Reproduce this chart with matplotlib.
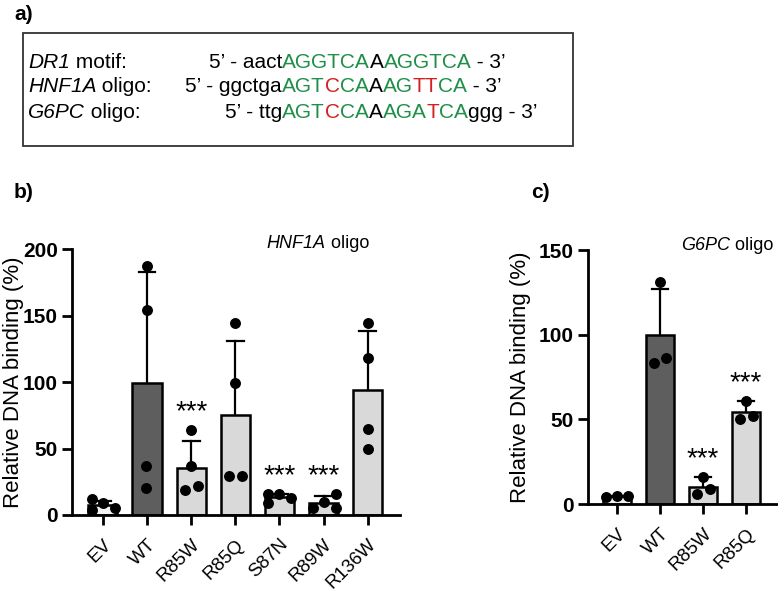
import numpy as np
import matplotlib
matplotlib.use("Agg")
import matplotlib.pyplot as plt
from matplotlib.offsetbox import TextArea, HPacker, AnnotationBbox
from matplotlib.patches import Rectangle

plt.rcParams['font.family'] = ['Liberation Sans', 'DejaVu Sans']

# ---- data ----
b_groups = ["EV", "WT", "R85W", "R85Q", "S87N", "R89W", "R136W"]
b_points = [
    [12, 4, 9, 5],
    [187, 154, 37, 20],
    [64, 37, 19, 22],
    [144, 99, 29, 29],
    [16, 9, 16, 13],
    [5, 10, 16, 5],
    [144, 118, 65, 50],
]
b_sd_top = [10.6, 183, 56, 131, 16, 14, 138]
b_stars = ["", "", "***", "", "***", "***", ""]

c_groups = ["EV", "WT", "R85W", "R85Q"]
c_points = [
    [4, 5, 5],
    [131, 83, 86],
    [16, 6, 9],
    [61, 50, 52],
]
c_sd_top = [5, 127, 16, 61]
c_stars = ["", "", "***", "***"]

# horizontal scatter of the dots inside each bar (style only)
b_jitter = [
    [-0.25, -0.25, 0, 0.27],
    [0, 0, -0.03, -0.03],
    [0, 0, -0.14, 0.16],
    [0, 0, -0.15, 0.14],
    [-0.25, -0.25, 0, 0.27],
    [-0.25, 0, 0.27, 0.27],
    [0, 0, 0, 0],
]
c_jitter = [
    [-0.25, 0, 0.25],
    [0, -0.14, 0.14],
    [0, -0.13, 0.16],
    [0, -0.15, 0.15],
]

green = "#1f8f48"
red = "#d42020"
light = "#d9d9d9"
dark = "#5e5e5e"

fig = plt.figure(figsize=(7.78, 5.95), dpi=100)


def rich(parts, fs, xy, align):
    # parts: list of (text, color, style)
    box = HPacker(children=[TextArea(s, textprops=dict(fontsize=fs, color=c, style=st))
                            for s, c, st in parts], sep=0, pad=0)
    fig.add_artist(AnnotationBbox(box, xy, xycoords="figure fraction",
                                  box_alignment=align, frameon=False, pad=0))


# ---- panel a: sequences ----
fig.text(14 / 778, 1 - 14 / 595, "a)", fontsize=15, fontweight="bold", va="center")
fig.patches.append(Rectangle((23 / 778, 1 - 146 / 595), 550 / 778, 113 / 595,
                             transform=fig.transFigure, fill=False,
                             edgecolor="#333333", lw=1.3))

seq_fs = 15
labels = [("DR1", " motif:"), ("HNF1A", " oligo:"), ("G6PC", " oligo:")]
prefixes = ["5\u2019 - aact", "5\u2019 - ggctga", "5\u2019 - ttg"]
cores = [
    [("AGGTCA", green), ("A", "black"), ("AGGTCA", green), (" - 3\u2019", "black")],
    [("AGT", green), ("C", red), ("CA", green), ("A", "black"), ("AG", green),
     ("TT", red), ("CA", green), (" - 3\u2019", "black")],
    [("AGT", green), ("C", red), ("CA", green), ("A", "black"), ("AGA", green),
     ("T", red), ("CA", green), ("ggg - 3\u2019", "black")],
]
line_y = [62, 87, 112]
motif_x = 282
for lab, pre, core, yy in zip(labels, prefixes, cores, line_y):
    yf = 1 - yy / 595
    rich([(lab[0], "black", "italic"), (lab[1], "black", "normal")], seq_fs,
         (28 / 778, yf), (0, 0.5))
    rich([(pre, "black", "normal")], seq_fs, (motif_x / 778, yf), (1, 0.5))
    rich([(s, c, "normal") for s, c in core], seq_fs, (motif_x / 778, yf), (0, 0.5))


def bar_panel(ax, groups, points, jitter, sd_top, stars, ymax, step, xlim):
    x = np.arange(len(groups))
    means = [np.mean(p) for p in points]
    colors = [dark if g == "WT" else light for g in groups]
    colors[0] = "#f2f2f2"
    ax.bar(x, means, width=0.66, color=colors, edgecolor="black", linewidth=1.8, zorder=2)
    for xi, m, top in zip(x, means, sd_top):
        if top > m:
            ax.plot([xi, xi], [m, top], color="black", lw=1.6, zorder=3)
            ax.plot([xi - 0.19, xi + 0.19], [top, top], color="black", lw=1.6, zorder=3)
    for xi, pts, jit in zip(x, points, jitter):
        ax.scatter(xi + np.asarray(jit), pts, s=62, color="black", zorder=4, linewidths=0)
    for xi, top, st in zip(x, sd_top, stars):
        if st:
            hi = max(top, max(points[xi]))
            ax.annotate(st, (xi, hi), xytext=(0, 7.5), textcoords="offset points",
                        ha="center", va="baseline", fontsize=20)
    ax.set_xlim(*xlim)
    ax.set_ylim(0, ymax)
    ax.set_yticks(np.arange(0, ymax + 1, step))
    ax.set_xticks(x)
    ax.set_xticklabels(groups, rotation=45, ha="right", rotation_mode="anchor", fontsize=13.5)
    for lab in ax.get_yticklabels():
        lab.set_fontweight("bold")
        lab.set_fontsize(15)
    for s in ["top", "right"]:
        ax.spines[s].set_visible(False)
    for s in ["left", "bottom"]:
        ax.spines[s].set_linewidth(2)
    ax.tick_params(width=2, length=7, direction="out", pad=3)
    ax.tick_params(axis="x", pad=8)
    ax.set_ylabel("Relative DNA binding (%)", fontsize=16)


# ---- panel b ----
axb = fig.add_axes([72 / 778, 1 - 515 / 595, 328 / 778, 266 / 595])
bar_panel(axb, b_groups, b_points, b_jitter, b_sd_top, b_stars, 200, 50, (-0.7, 6.73))
axb.yaxis.set_label_coords((24 - 72) / 328, 0.5)
fig.text(14 / 778, 1 - 192 / 595, "b)", fontsize=15, fontweight="bold", va="center")
rich([("HNF1A", "black", "italic"), (" oligo", "black", "normal")], 13,
     (318 / 778, 1 - 243 / 595), (0.5, 0.5))

# ---- panel c ----
axc = fig.add_axes([588 / 778, 1 - 504 / 595, 190 / 778, 254 / 595])
bar_panel(axc, c_groups, c_points, c_jitter, c_sd_top, c_stars, 150, 50, (-0.67, 3.74))
axc.yaxis.set_label_coords((531 - 588) / 190, 0.5)
fig.text(531 / 778, 1 - 193 / 595, "c)", fontsize=15, fontweight="bold", va="center")
rich([("G6PC", "black", "italic"), (" oligo", "black", "normal")], 13,
     (727 / 778, 1 - 245 / 595), (0.5, 0.5))

fig.savefig("out.png", dpi=100)
